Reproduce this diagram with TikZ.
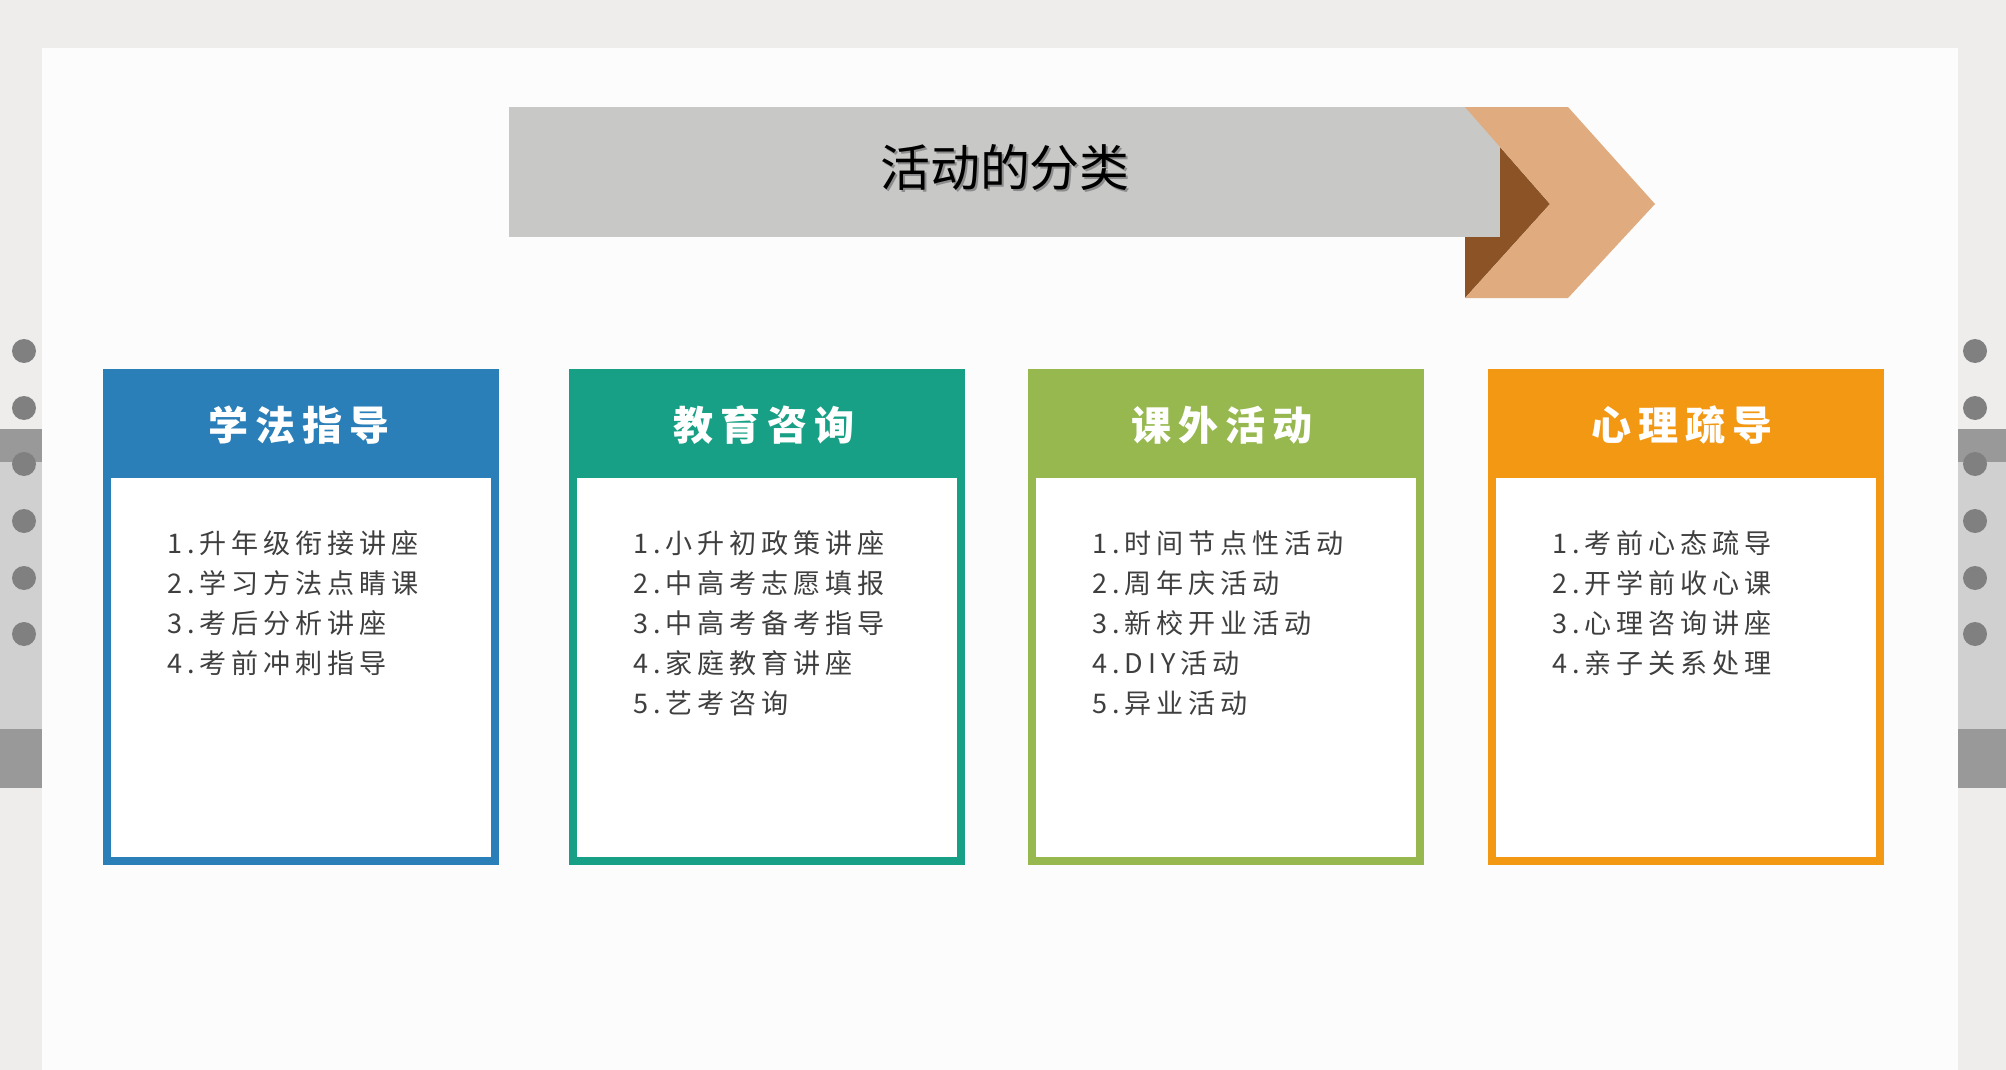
\documentclass[tikz,border=0pt]{standalone}
\usepackage{fontspec}
\newfontfamily\cjk{Noto Sans CJK SC}
\newfontfamily\cjkhead[LetterSpace=18]{Noto Sans CJK SC}
\newfontfamily\cjklist[LetterSpace=18]{Noto Sans CJK SC}
\definecolor{pagebg}{HTML}{EEEDEB}
\definecolor{panel}{HTML}{FCFCFC}
\definecolor{banddark}{HTML}{9A9999}
\definecolor{bandlight}{HTML}{D0D0D0}
\definecolor{dotgray}{HTML}{808080}
\definecolor{bannergray}{HTML}{C8C8C6}
\definecolor{chevbrown}{HTML}{8B5326}
\definecolor{chevtan}{HTML}{DFAB7F}
\definecolor{xfblue}{HTML}{2A7FB8}
\definecolor{jyteal}{HTML}{17A085}
\definecolor{kwgreen}{HTML}{96B84F}
\definecolor{xlorange}{HTML}{F39813}
\definecolor{itemgray}{HTML}{3F3F3F}

\begin{document}
\begin{tikzpicture}[x=0.1mm,y=-0.1mm,catbox/.style={fill=#1,minimum width=39.6mm,minimum height=49.6mm,inner sep=0pt},body/.style={fill=white,minimum width=38mm,minimum height=37.9mm,inner sep=0pt},head/.style={text=white,inner sep=0pt,font=\cjkhead\bfseries\fontsize{11.4}{13}\selectfont},items/.style={anchor=north west,align=left,inner sep=0pt,text=itemgray,font=\cjklist\fontsize{7.7}{11.4}\selectfont},titletext/.style={inner sep=0pt,font=\cjk\fontsize{14.2}{16}\selectfont}]
\useasboundingbox (0,0) rectangle (2006,1070);
\fill[pagebg] (0,0) rectangle (2006,1070); \fill[panel] (42,48) rectangle (1958,1070);
% side strips
\fill[banddark] (0,429) rectangle (42,462); \fill[bandlight] (0,462) rectangle (42,729); \fill[banddark] (0,729) rectangle (42,788);
\fill[banddark] (1958,429) rectangle (2006,462); \fill[bandlight] (1958,462) rectangle (2006,729); \fill[banddark] (1958,729) rectangle (2006,788);
\foreach \y in {351,408,464,521,578,634} {\fill[dotgray] (24,\y) circle (1.2mm); \fill[dotgray] (1975,\y) circle (1.2mm);}
% banner
\fill[chevbrown] (1465,107) -- (1550,204) -- (1465,298) -- cycle;
\fill[bannergray] (509,107) rectangle (1500,237);
\fill[chevtan] (1465,107) -- (1568,107) -- (1655,204) -- (1568,298) -- (1465,298) -- (1550,204) -- cycle;
\node[titletext,text=black!45] (titleshadow) at (1007,170) {活动的分类}; \node[titletext] (title) at (1005,168) {活动的分类};
% categories
\node[catbox=xfblue] (xf) at (301,617) {}; \node[body] (xfbody) at (301,667.5) {}; \node[head] (xfhead) at (299,425) {学法指导};
\node[items] (xflist) at (167,530) {1.升年级衔接讲座\\2.学习方法点睛课\\3.考后分析讲座\\4.考前冲刺指导};
\node[catbox=jyteal] (jy) at (767,617) {}; \node[body] (jybody) at (767,667.5) {}; \node[head] (jyhead) at (764,425) {教育咨询};
\node[items] (jylist) at (633,530) {1.小升初政策讲座\\2.中高考志愿填报\\3.中高考备考指导\\4.家庭教育讲座\\5.艺考咨询};
\node[catbox=kwgreen] (kw) at (1226,617) {}; \node[body] (kwbody) at (1226,667.5) {}; \node[head] (kwhead) at (1222,425) {课外活动};
\node[items] (kwlist) at (1092,530) {1.时间节点性活动\\2.周年庆活动\\3.新校开业活动\\4.DIY活动\\5.异业活动};
\node[catbox=xlorange] (xl) at (1686,617) {}; \node[body] (xlbody) at (1686,667.5) {}; \node[head] (xlhead) at (1682,425) {心理疏导};
\node[items] (xllist) at (1552,530) {1.考前心态疏导\\2.开学前收心课\\3.心理咨询讲座\\4.亲子关系处理};
\end{tikzpicture}
\end{document}
